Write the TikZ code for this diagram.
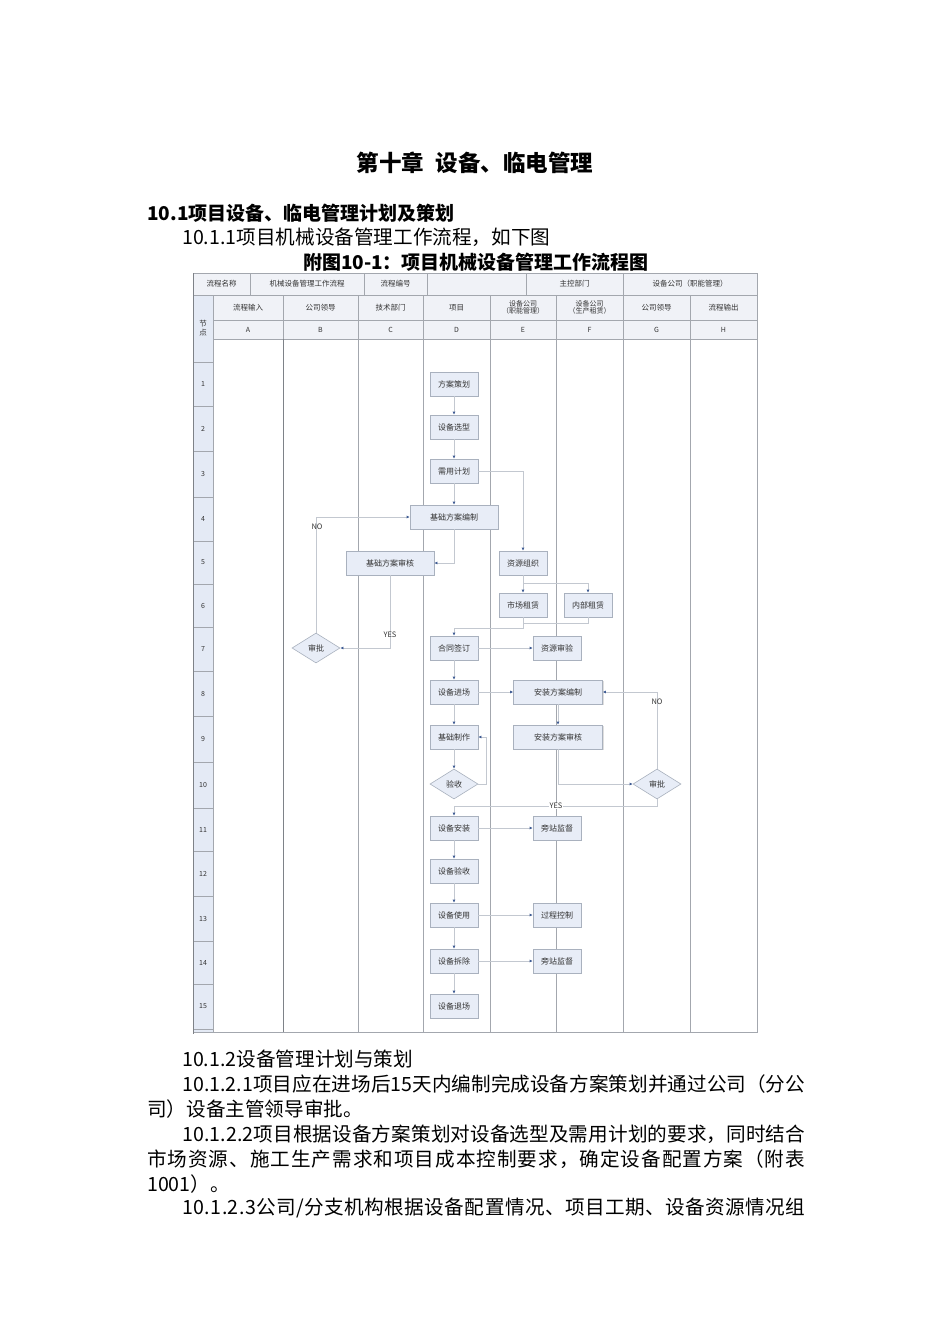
\documentclass[tikz,border=0pt]{standalone}
\usepackage{fontspec}
\setmainfont{Noto Sans CJK SC}
\usetikzlibrary{arrows.meta,shapes.geometric,shadows}
\definecolor{linegray}{HTML}{C3C8D0}
\definecolor{boxfill}{HTML}{E8EDF7}
\definecolor{boxdraw}{HTML}{A9B1BE}
\definecolor{arrowblue}{HTML}{3F5C94}
\definecolor{hdrfill}{HTML}{F0F2F7}
\definecolor{tablegray}{HTML}{A3A7AE}
\definecolor{tabledark}{HTML}{7E8288}
\definecolor{nodecol}{HTML}{E4EAF5}
\definecolor{txtgray}{HTML}{333333}
\newcommand{\fsz}[1]{\fontsize{#1}{#1}\selectfont}
\makeatletter
\def\jsp@#1{\ifx#1\relax\else#1\hskip0pt plus 1fil\expandafter\jsp@\fi}
\newcommand\jline[2]{\hbox to #1{\jsp@#2\relax\unskip}}
\makeatother
\tikzset{
  box/.style={draw=boxdraw, fill=boxfill, line width=0.6pt, minimum width=48pt, minimum height=24pt, inner sep=0pt, font=\fsz{8}, text=txtgray, drop shadow={shadow xshift=1pt, shadow yshift=-1pt, fill=black!25}},
  wbox/.style={box, minimum width=89pt},
  dia/.style={diamond, draw=boxdraw, fill=boxfill, line width=0.6pt, minimum width=48pt, minimum height=30pt, inner sep=0pt, font=\fsz{8}, text=txtgray},
  arr/.style={draw=linegray, line width=0.6pt, -{Latex[length=3pt,width=3pt,color=arrowblue]}},
  conn/.style={draw=linegray, line width=0.6pt},
  tline/.style={draw=tablegray, line width=0.6pt},
  htxt/.style={font=\fsz{7.5}, text=txtgray, inner sep=0pt, align=center},
  lbl/.style={font=\fsz{7.5}, text=txtgray, inner sep=0.5pt},
  body/.style={font=\fsz{19.6}, anchor=west, inner sep=0pt, text=black},
}
\begin{document}
\begin{tikzpicture}[x=1pt,y=-1pt]
\useasboundingbox (0,0) rectangle (950,1344);
\fill[white] (0,0) rectangle (950,1344);

% ---------- text above ----------
\node[font=\fsz{22.5}\bfseries, inner sep=0pt] (title) at (475,163) {第十章\hspace{0.5em}设备、临电管理};
\node[body, font=\fsz{19}\bfseries] (sec) at (147,213) {10.1项目设备、临电管理计划及策划};
\node[body] (sub) at (182,237) {10.1.1项目机械设备管理工作流程，如下图};
\node[font=\fsz{19}\bfseries, inner sep=0pt] (cap) at (476,262) {附图10-1：项目机械设备管理工作流程图};

% ---------- table ----------
\fill[hdrfill] (193,273) rectangle (757,339);
\fill[nodecol] (193,295) rectangle (213,1032);
% header row 1
\draw[tline] (193,295) -- (757,295);
\foreach \x in {250,364,427,526,623} \draw[tline] (\x,273) -- (\x,295);
\node[htxt] (r1a) at (221.5,284) {流程名称};
\node[htxt] (r1b) at (307,284) {机械设备管理工作流程};
\node[htxt] (r1c) at (395.5,284) {流程编号};
\node[htxt] (r1e) at (574.5,284) {主控部门};
\node[htxt] (r1f) at (690,284) {设备公司（职能管理）};
% header rows 2,3
\draw[tline] (213,320) -- (757,320);
\draw[tline] (213,339) -- (757,339);
\foreach \x in {283,358,423,490,556,623,690} \draw[tline] (\x,295) -- (\x,339);
\draw[tline] (213,295) -- (213,1032);
\node[htxt] (nd) at (203,328) {节\\[1pt]点};
\node[htxt] (la) at (248,307.5) {流程输入};
\node[htxt] (lb) at (320.5,307.5) {公司领导};
\node[htxt] (lc) at (390.5,307.5) {技术部门};
\node[htxt] (ld) at (456.5,307.5) {项目};
\node[htxt, font=\fsz{7}] (le) at (523,307.5) {设备公司\\（职能管理）};
\node[htxt, font=\fsz{7}] (lf) at (589.5,307.5) {设备公司\\（生产租赁）};
\node[htxt] (lg) at (656.5,307.5) {公司领导};
\node[htxt] (lh) at (723.5,307.5) {流程输出};
\foreach \xc/\lt in {248/A,320.5/B,390.5/C,456.5/D,523/E,589.5/F,656.5/G,723.5/H}
  \node[htxt, font=\fsz{7}] at (\xc,329.5) {\lt};
% body lanes
\foreach \x in {358,423,490,556,623,690} \draw[tline] (\x,339) -- (\x,1032);
\draw[draw=tabledark, line width=0.8pt] (283,339) -- (283,1032);
% node column rows
\foreach \y in {362,406,451,497,541,584,627,671,716,762,808,851,896,941,984,1029}
  \draw[tline] (193,\y) -- (213,\y);
\foreach \yc/\n in {384/1,428.5/2,474/3,519/4,562.5/5,605.5/6,649/7,693.5/8,739/9,785/10,829.5/11,873.5/12,918.5/13,962.5/14,1006.5/15}
  \node[htxt, font=\fsz{7}] at (203,\yc) {\n};
\draw[tline] (193,273) rectangle (757,1032);
\draw[draw=tabledark, line width=1pt] (193,273) -- (193,1034);

% ---------- flow nodes ----------
\node[box] (fa) at (454,384) {方案策划};
\node[box] (xx) at (454,427) {设备选型};
\node[box] (jh) at (454,471) {需用计划};
\node[box, minimum width=88pt] (bz) at (454,517) {基础方案编制};
\node[box, minimum width=88pt] (sh) at (390,563) {基础方案审核};
\node[box] (zy) at (523,563) {资源组织};
\node[box] (sc) at (523,605) {市场租赁};
\node[box] (nb) at (588,605) {内部租赁};
\node[dia] (sp1) at (316,648) {审批};
\node[box] (ht) at (454,648) {合同签订};
\node[box] (yz) at (557,648) {资源审验};
\node[box] (jc) at (454,692) {设备进场};
\node[wbox] (az) at (558,692) {安装方案编制};
\node[box] (jz) at (454,737) {基础制作};
\node[wbox] (as) at (558,737) {安装方案审核};
\node[dia] (ys) at (454,784) {验收};
\node[dia] (sp2) at (657,784) {审批};
\node[box] (an) at (454,828) {设备安装};
\node[box] (pz1) at (557,828) {旁站监督};
\node[box] (yy) at (454,871) {设备验收};
\node[box] (sy) at (454,915) {设备使用};
\node[box] (gc) at (557,915) {过程控制};
\node[box] (cc) at (454,961) {设备拆除};
\node[box] (pz2) at (557,961) {旁站监督};
\node[box] (tc) at (454,1006) {设备退场};

% ---------- connectors ----------
\draw[arr] (fa) -- (xx);
\draw[arr] (xx) -- (jh);
\draw[arr] (jh) -- (bz);
\draw[arr] (jh.east) -| (zy.north);
\draw[arr] (bz.south) |- (sh.east);
\draw[arr] (sh.south) |- (sp1.east);
\draw[arr] (sp1.north) |- (bz.west);
\node[lbl] (no1) at (317,527) {NO};
\node[lbl] (yes1) at (390,635) {YES};
\draw[arr] (zy.south) -- (sc.north);
\draw[arr] (zy.south) -- ++(0,8) -| (nb.north);
\draw[conn] (nb.south) -- ++(0,6) -| (sc.south);
\draw[arr] (sc.south) -- ++(0,11) -| (ht.north);
\draw[arr] (ht) -- (yz);
\draw[arr] (ht) -- (jc);
\draw[arr] (jc) -- (az);
\draw[arr] (jc) -- (jz);
\draw[arr] (az) -- (as);
\draw[arr] (as.south) |- (sp2.west);
\draw[arr] (sp2.north) |- (az.east);
\node[lbl] (no2) at (657,702) {NO};
\draw[arr] (jz) -- (ys);
\draw[arr] (ys.east) -- ++(8,0) |- (jz.east);
\draw[arr] (sp2.south) -- ++(0,7) -| (an.north);
\node[lbl, fill=white] (yes2) at (556,806) {YES};
\draw[arr] (an) -- (pz1);
\draw[arr] (an) -- (yy);
\draw[arr] (yy) -- (sy);
\draw[arr] (sy) -- (gc);
\draw[arr] (sy) -- (cc);
\draw[arr] (cc) -- (pz2);
\draw[arr] (cc) -- (tc);

% ---------- text below ----------
\node[body] (p0) at (182,1059) {10.1.2设备管理计划与策划};
\node[body] (p1) at (182,1084) {\jline{623pt}{10.1.2.1项目应在进场后15天内编制完成设备方案策划并通过公司（分公}};
\node[body] (p1b) at (147,1109) {司）设备主管领导审批。};
\node[body] (p2) at (182,1134) {\jline{623pt}{10.1.2.2项目根据设备方案策划对设备选型及需用计划的要求，同时结合}};
\node[body] (p2b) at (147,1159) {\jline{658pt}{市场资源、施工生产需求和项目成本控制要求，确定设备配置方案（附表}};
\node[body] (p2c) at (147,1184) {1001）。};
\node[body] (p3) at (182,1208) {\jline{623pt}{10.1.2.3公司/分支机构根据设备配置情况、项目工期、设备资源情况组}};
\end{tikzpicture}
\end{document}
